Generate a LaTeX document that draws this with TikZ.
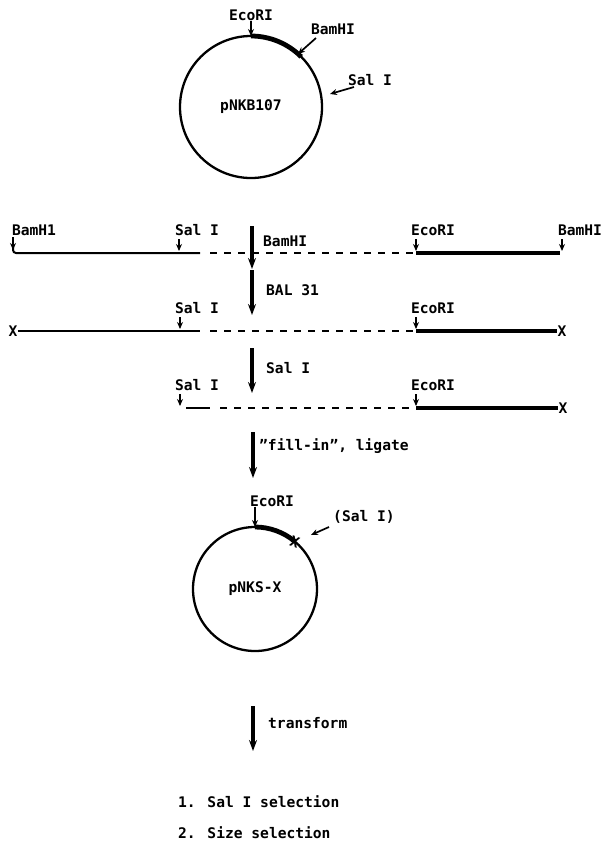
\documentclass[tikz,border=0pt]{standalone}
\usepackage{fontspec}
\setmainfont{DejaVu Sans Mono}
\usetikzlibrary{arrows.meta}
\begin{document}
\begin{tikzpicture}[x=1pt,y=-1pt,
  font=\bfseries\fontsize{14.6}{16}\selectfont,
  lbl/.style={inner sep=0pt},
  site/.style={-{Stealth[length=7pt,width=6pt]}, line width=1.7pt},
  bigarrow/.style={-{Stealth[length=11pt,width=8pt]}, line width=3.4pt},
  dna/.style={line width=2pt},
  thickdna/.style={line width=4.4pt},
  dashdna/.style={line width=2pt, dash pattern=on 7pt off 7pt},
  plasmid/.style={circle, draw, line width=2.3pt, inner sep=0pt, outer sep=0pt},
  endx/.style={inner sep=0pt, font=\bfseries\fontsize{14.6}{16}\selectfont}]
\useasboundingbox (0,0) rectangle (603,841);

% ---------- plasmid pNKB107 ----------
\node[plasmid, minimum size=142pt] (p1) at (251,107) {pNKB107};
\draw[line width=4.8pt] (p1.north) arc[start angle=90, end angle=45, radius=71pt];
\node[lbl] (e1) at (251,15) {EcoRI};
\draw[site] (e1.south) -- (p1.north);
\node[lbl] (b1) at (333,29) {BamHI};
\coordinate (b1a) at (316,38);
\coordinate (b1b) at (298,54);
\draw[site] (b1a) -- (b1b);
\node[lbl] (s1) at (370,80) {Sal I};
\coordinate (s1a) at (354,87);
\coordinate (s1b) at (330,94);
\draw[site] (s1a) -- (s1b);

% ---------- step arrow BamHI ----------
\coordinate (a1s) at (252,226);
\coordinate (a1e) at (252,269);
\draw[bigarrow] (a1s) -- (a1e);
\node[lbl, anchor=west] (a1l) at (263,241) {BamHI};

% ---------- line 1 ----------
\coordinate (l1a) at (13,253);
\coordinate (l1b) at (200,253);
\coordinate (l1c) at (210,253);
\coordinate (l1d) at (416,253);
\coordinate (l1e) at (560,253);
\draw[dna, rounded corners=3pt] (13,246) -- (l1a) -- (l1b);
\draw[dashdna] (l1c) -- (l1d);
\draw[thickdna] (l1d) -- (l1e);
\node[lbl] (l1bam) at (34,230) {BamH1};
\coordinate (l1bamt) at (13,237);
\draw[site] (l1bamt) -- ([yshift=3pt]l1a);
\node[lbl] (l1sal) at (197,230) {Sal I};
\coordinate (l1salt) at (179,239);
\coordinate (l1sale) at (179,251);
\draw[site] (l1salt) -- (l1sale);
\node[lbl] (l1eco) at (433,230) {EcoRI};
\coordinate (l1ecot) at (416,239);
\coordinate (l1ecoe) at (416,251);
\draw[site] (l1ecot) -- (l1ecoe);
\node[lbl] (l1bam2) at (580,230) {BamHI};
\coordinate (l1bam2t) at (562,239);
\coordinate (l1bam2e) at (562,251);
\draw[site] (l1bam2t) -- (l1bam2e);

% ---------- step arrow BAL 31 ----------
\coordinate (a2s) at (252,270);
\coordinate (a2e) at (252,315);
\draw[bigarrow] (a2s) -- (a2e);
\node[lbl, anchor=west] (a2l) at (266,290) {BAL 31};

% ---------- line 2 ----------
\node[endx] (x2a) at (13,331) {X};
\coordinate (l2b) at (200,331);
\coordinate (l2c) at (210,331);
\coordinate (l2d) at (416,331);
\node[endx] (x2b) at (562,331) {X};
\draw[dna] (x2a.east) -- (l2b);
\draw[dashdna] (l2c) -- (l2d);
\draw[thickdna] (l2d) -- (x2b.west);
\node[lbl] (l2sal) at (197,308) {Sal I};
\coordinate (l2salt) at (180,317);
\coordinate (l2sale) at (180,329);
\draw[site] (l2salt) -- (l2sale);
\node[lbl] (l2eco) at (433,308) {EcoRI};
\coordinate (l2ecot) at (416,317);
\coordinate (l2ecoe) at (416,329);
\draw[site] (l2ecot) -- (l2ecoe);

% ---------- step arrow Sal I ----------
\coordinate (a3s) at (252,348);
\coordinate (a3e) at (252,393);
\draw[bigarrow] (a3s) -- (a3e);
\node[lbl, anchor=west] (a3l) at (266,368) {Sal I};

% ---------- line 3 ----------
\coordinate (l3a) at (186,408);
\coordinate (l3b) at (210,408);
\coordinate (l3c) at (220,408);
\coordinate (l3d) at (416,408);
\node[endx] (x3b) at (563,408) {X};
\draw[dna] (l3a) -- (l3b);
\draw[dashdna] (l3c) -- (l3d);
\draw[thickdna] (l3d) -- (x3b.west);
\node[lbl] (l3sal) at (197,385) {Sal I};
\coordinate (l3salt) at (180,394);
\coordinate (l3sale) at (180,406);
\draw[site] (l3salt) -- (l3sale);
\node[lbl] (l3eco) at (433,385) {EcoRI};
\coordinate (l3ecot) at (416,394);
\coordinate (l3ecoe) at (416,406);
\draw[site] (l3ecot) -- (l3ecoe);

% ---------- step arrow fill-in ----------
\coordinate (a4s) at (253,432);
\coordinate (a4e) at (253,478);
\draw[bigarrow] (a4s) -- (a4e);
\node[lbl, anchor=west] (a4l) at (259,446) {"fill-in", ligate};

% ---------- plasmid pNKS-X ----------
\node[plasmid, minimum size=124pt] (p2) at (255,589) {pNKS-X};
\draw[line width=4.8pt] (p2.north) arc[start angle=90, end angle=50, radius=62pt];
\node[lbl] (e2) at (272,501) {EcoRI};
\draw[site] (e2.south -| p2.north) -- (p2.north);
\node[endx, rotate=-20] (x2p) at (p2.50) {X};
\node[lbl] (s2) at (364,517) {(Sal I)};
\coordinate (s2a) at (329,527);
\coordinate (s2b) at (311,535);
\draw[site] (s2a) -- (s2b);

% ---------- step arrow transform ----------
\coordinate (a5s) at (253,706);
\coordinate (a5e) at (253,751);
\draw[bigarrow] (a5s) -- (a5e);
\node[lbl, anchor=west] (a5l) at (268,723) {transform};

% ---------- selections ----------
\node[lbl, anchor=west] (sel1) at (178,802) {1. Sal I selection};
\node[lbl, anchor=west] (sel2) at (178,833) {2. Size selection};
\end{tikzpicture}
\end{document}
